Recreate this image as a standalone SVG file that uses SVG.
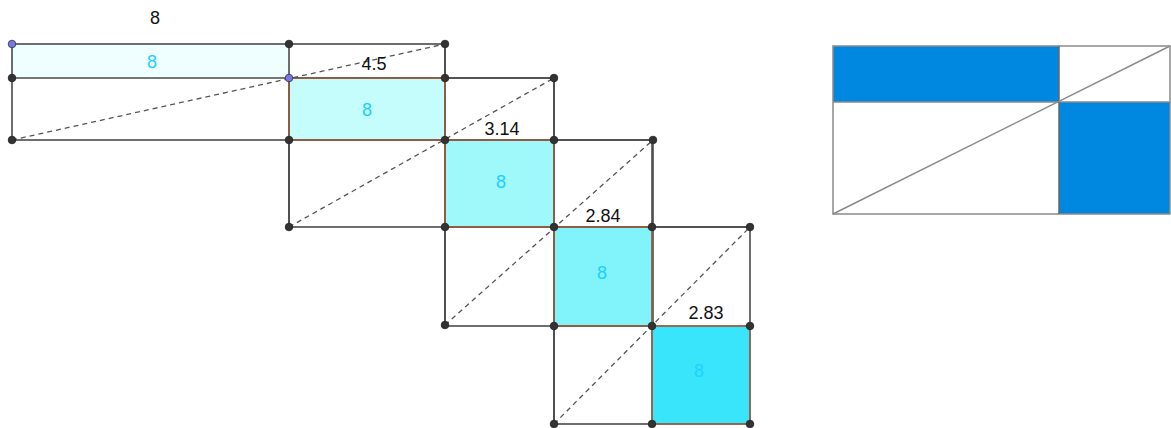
<svg xmlns="http://www.w3.org/2000/svg" width="1171" height="428" viewBox="0 0 1171 428">
<style>
.ln{stroke:#4a4a4a;stroke-width:1.6;fill:none}
.ds{stroke:#555;stroke-width:1.3;stroke-dasharray:5,4;fill:none}
.fb{stroke:#c8643a;stroke-width:1.1}
.pt{fill:#333;stroke:#222;stroke-width:0.8}
.bp{fill:#7878ee;stroke:#333;stroke-width:0.8}
.lb{font-family:"Liberation Sans",Arial,sans-serif;font-size:18px;fill:#111;text-anchor:middle}
.cl{font-family:"Liberation Sans",Arial,sans-serif;font-size:18px;fill:#1ccfff;text-anchor:middle}
.rl{stroke:#8a8a8a;stroke-width:1.5;fill:none}
</style>
<g id="fills">
<rect x="12" y="44" width="277" height="34" fill="#effefe"/>
<rect x="289" y="78" width="156" height="62" fill="#c5fcfc"/>
<rect x="445" y="140" width="109" height="87" fill="#9ff8fa"/>
<rect x="554" y="227" width="98" height="99" fill="#80f3fb"/>
<rect x="652" y="326" width="98" height="98" fill="#38e5fb"/>
</g>
<g id="connectors">
<rect x="12" y="44" width="433" height="96" class="ln"/>
<line x1="12" y1="78" x2="554" y2="78" class="ln"/>
<line x1="289" y1="44" x2="289" y2="227" class="ln"/>
<rect x="289" y="78" width="265" height="149" class="ln"/>
<line x1="289" y1="140" x2="653" y2="140" class="ln"/>
<line x1="445" y1="44" x2="445" y2="325" class="ln"/>
<rect x="445" y="140" width="208" height="186" class="ln"/>
<line x1="445" y1="227" x2="750" y2="227" class="ln"/>
<line x1="554" y1="78" x2="554" y2="424" class="ln"/>
<rect x="554" y="227" width="196" height="197" class="ln"/>
<line x1="554" y1="326" x2="750" y2="326" class="ln"/>
<line x1="652" y1="140" x2="652" y2="424" class="ln"/>
<rect x="289" y="78" width="156" height="62" fill="none" class="fb"/>
<rect x="445" y="140" width="109" height="87" fill="none" class="fb"/>
<rect x="554" y="227" width="98" height="99" fill="none" class="fb"/>
<rect x="652" y="326" width="98" height="98" fill="none" class="fb"/>
<line x1="12" y1="140" x2="445" y2="44" class="ds"/>
<line x1="289" y1="227" x2="554" y2="78" class="ds"/>
<line x1="445" y1="325" x2="653" y2="140" class="ds"/>
<line x1="554" y1="424" x2="750" y2="227" class="ds"/>
</g>
<g id="points">
<circle cx="289" cy="44" r="3.8" class="pt"/>
<circle cx="445" cy="44" r="3.8" class="pt"/>
<circle cx="12" cy="78" r="3.8" class="pt"/>
<circle cx="445" cy="78" r="3.8" class="pt"/>
<circle cx="554" cy="78" r="3.8" class="pt"/>
<circle cx="12" cy="140" r="3.8" class="pt"/>
<circle cx="289" cy="140" r="3.8" class="pt"/>
<circle cx="445" cy="140" r="3.8" class="pt"/>
<circle cx="554" cy="140" r="3.8" class="pt"/>
<circle cx="653" cy="140" r="3.8" class="pt"/>
<circle cx="289" cy="227" r="3.8" class="pt"/>
<circle cx="445" cy="227" r="3.8" class="pt"/>
<circle cx="554" cy="227" r="3.8" class="pt"/>
<circle cx="652" cy="227" r="3.8" class="pt"/>
<circle cx="750" cy="227" r="3.8" class="pt"/>
<circle cx="445" cy="325" r="3.8" class="pt"/>
<circle cx="554" cy="326" r="3.8" class="pt"/>
<circle cx="652" cy="326" r="3.8" class="pt"/>
<circle cx="750" cy="326" r="3.8" class="pt"/>
<circle cx="554" cy="424" r="3.8" class="pt"/>
<circle cx="652" cy="424" r="3.8" class="pt"/>
<circle cx="750" cy="424" r="3.8" class="pt"/>
<circle cx="12" cy="44" r="3.8" class="bp"/>
<circle cx="289" cy="78" r="3.8" class="bp"/>
</g>
<g id="labels">
<text x="155" y="24" class="lb">8</text>
<text x="374" y="70" class="lb">4.5</text>
<text x="502" y="135" class="lb">3.14</text>
<text x="603" y="222" class="lb">2.84</text>
<text x="706" y="319" class="lb">2.83</text>
<text x="152" y="68" class="cl">8</text>
<text x="367" y="116" class="cl">8</text>
<text x="501" y="188" class="cl">8</text>
<text x="602" y="279" class="cl">8</text>
<text x="699" y="377" class="cl" style="fill:#22d2fb">8</text>
</g>
<g id="summary">
<rect x="833" y="46" width="226" height="56" fill="#0087e0"/>
<rect x="1059" y="102" width="111" height="112" fill="#0087e0"/>
<rect x="833" y="46" width="337" height="168" class="rl"/>
<line x1="833" y1="102" x2="1170" y2="102" class="rl"/>
<line x1="1059" y1="46" x2="1059" y2="214" stroke="#666" stroke-width="1.5"/>
<line x1="833" y1="214" x2="1170" y2="46" class="rl"/>
</g>
</svg>
